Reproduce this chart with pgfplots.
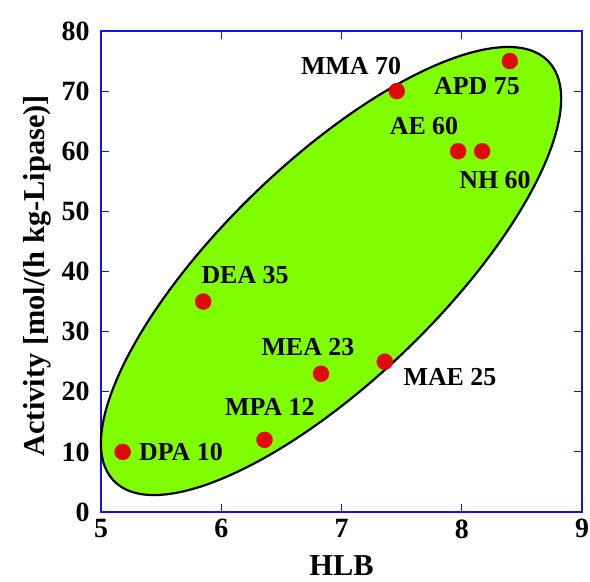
\documentclass[border=0pt]{standalone}
\usepackage{pgfplots}
\pgfplotsset{compat=1.18}
\usepackage{fontspec}
\setmainfont{Liberation Serif}

\definecolor{dotred}{RGB}{224,8,8}
\definecolor{blobgreen}{RGB}{128,255,0}
\definecolor{axblue}{RGB}{20,20,230}

\begin{document}
\begin{tikzpicture}
\useasboundingbox (-101bp,-70bp) rectangle (489bp,512bp);
\begin{axis}[
    scale only axis,
    width=481bp, height=481bp,
    xmin=5, xmax=9, ymin=0, ymax=80,
    xtick={5,6,7,8,9},
    ytick={0,10,20,30,40,50,60,70,80},
    tick align=inside,
    major tick length=8bp,
    axis line style={axblue, line width=1.2bp},
    every tick/.style={axblue, line width=1.2bp},
    /pgf/number format/assume math mode=true,
    tick label style={font=\fontsize{28}{28}\selectfont\bfseries},
    xticklabel style={yshift=-4bp},
    yticklabel style={xshift=-8bp},
    every axis x label/.style={at={(axis description cs:0.5,-0.111)}, anchor=center},
    every axis y label/.style={at={(axis description cs:-0.133,0.491)}, anchor=center, rotate=90},
    label style={font=\fontsize{30.5}{30.5}\selectfont\bfseries},
    xlabel={HLB},
    ylabel={Activity [mol/(h kg-Lipase)]},
    clip=false,
]
% green region
\draw[black, line width=2.2bp, fill=blobgreen,
      rotate around={44:(axis cs:6.913,40.08)}]
      (axis cs:6.913,40.08) ellipse [x radius=302bp, y radius=109bp];

\addplot[only marks, mark=*, mark size=8bp, color=dotred,
         mark options={draw=dotred, fill=dotred}] coordinates {
    (5.18,10) (6.36,12) (6.83,23) (7.36,25) (5.85,35)
    (7.46,70) (7.97,60) (8.17,60) (8.40,75)
};

\begin{scope}[every node/.style={font=\fontsize{26}{26}\selectfont\bfseries, inner sep=0pt}]
\node at (axis cs:7.079,74.18) {MMA 70};
\node at (axis cs:8.127,70.85) {APD 75};
\node at (axis cs:7.686,64.20) {AE 60};
\node at (axis cs:8.277,55.22) {NH 60};
\node at (axis cs:6.198,39.42) {DEA 35};
\node at (axis cs:6.721,27.44) {MEA 23};
\node at (axis cs:7.902,22.45) {MAE 25};
\node at (axis cs:6.405,17.46) {MPA 12};
\node at (axis cs:5.665,9.98) {DPA 10};
\end{scope}
\end{axis}
\end{tikzpicture}
\end{document}
